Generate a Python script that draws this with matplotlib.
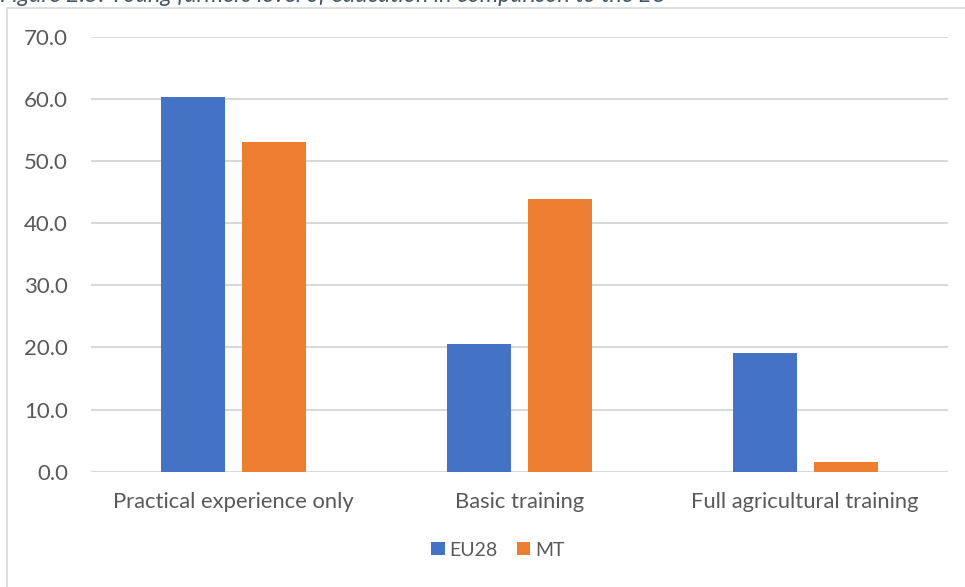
import matplotlib
matplotlib.use("Agg")
import matplotlib.pyplot as plt
import numpy as np
from matplotlib.patches import Patch, Rectangle

categories = ["Practical experience only", "Basic training", "Full agricultural training"]
series_names = ["EU28", "MT"]
eu28 = [60.3, 20.5, 19.1]
mt = [53.0, 43.9, 1.5]
y_ticks = [0, 10, 20, 30, 40, 50, 60, 70]
caption = "Figure 2.5: Young farmers level of education in comparison to the EU"

BLUE = "#4472C4"
ORANGE = "#ED7D31"
TEXT = "#595959"
GRID = "#D9D9D9"

plt.rcParams["font.family"] = ["Lato", "DejaVu Sans"]

fig = plt.figure(figsize=(9.65, 5.87), dpi=100)
fig.patch.set_facecolor("white")

# chart frame
fig.patches.append(Rectangle((7 / 965, -0.05), 1.2, 1 - 7.5 / 587 + 0.05,
                             transform=fig.transFigure, fill=False,
                             edgecolor=GRID, linewidth=1.2, zorder=0))

# caption above the frame
fig.text(0.0, 1 - 2.5 / 587, caption, ha="left", va="baseline",
         fontsize=16.8, style="italic", color="#44546A")

ax = fig.add_axes([91 / 965, 1 - 471.7 / 587, (948 - 91) / 965, (471.7 - 36.7) / 587])

x = np.arange(len(categories))
width = 0.224
offset = 0.142
ax.bar(x - offset, eu28, width, color=BLUE, label=series_names[0], zorder=3)
ax.bar(x + offset, mt, width, color=ORANGE, label=series_names[1], zorder=3)

ax.set_xlim(-0.5, len(categories) - 0.5)
ax.set_ylim(0, 70)
ax.set_yticks(y_ticks)
ax.set_yticklabels([f"{v:.1f}" for v in y_ticks])
ax.set_xticks(x)
ax.set_xticklabels(categories)

ax.yaxis.grid(True, color=GRID, linewidth=1.5, zorder=0)
ax.set_axisbelow(True)
for s in ax.spines.values():
    s.set_visible(False)
ax.tick_params(axis="y", length=0, pad=16.5, labelsize=16, labelcolor=TEXT)
ax.tick_params(axis="x", length=0, pad=14.5, labelsize=15.8, labelcolor=TEXT)

handles = [Patch(facecolor=BLUE, label=series_names[0]),
           Patch(facecolor=ORANGE, label=series_names[1])]
fig.legend(handles=handles, loc="center", bbox_to_anchor=(498 / 965, 1 - 550 / 587),
           ncol=2, frameon=False, fontsize=14, labelcolor=TEXT,
           handlelength=0.68, handleheight=0.68, handletextpad=0.25,
           columnspacing=1.0, borderpad=0)

fig.savefig("out.png", dpi=100)
